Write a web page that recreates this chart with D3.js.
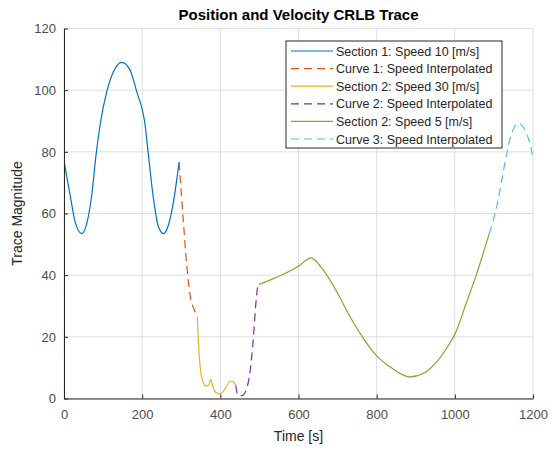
<!DOCTYPE html>
<html>
<head>
<meta charset="utf-8">
<script src="https://cdn.jsdelivr.net/npm/d3@7"></script>
<style>
  body { margin: 0; background: #fff; }
  text { font-family: "Liberation Sans", Arial, sans-serif; }
</style>
</head>
<body>
<div id="vis-container"></div>
<script>
// values: [time, trace]
var section1 = [[0,77],[15.6,66],[28.4,57.3],[45.5,53.5],[58.3,56.8],[71,66],[82,79],[92.3,88.7],
  [109.4,99.5],[126.5,106],[147.8,109],[169,106.5],[186,99.5],[207.5,88.7],[216,79],[228.8,64.9],
  [241.6,55.7],[254.4,53.5],[267,56.2],[280,63.8],[294.5,76.6]];
var curve1 = [[294.5,76.6],[305.5,57.3],[314,43.3],[322.6,33.5],[333.6,28.7],[341,26.5]];
var section2 = [[341,26.5],[343.9,18.4],[348,10.8],[354,6],[362.6,4],[369.5,4.3],[375.5,6.2],
  [379.7,4.3],[388,2],[399,1.5],[410,2.7],[425,5.6],[433.4,5.4],[439.5,4.3]];
var curve2 = [[439.5,4.3],[444.6,1.1],[455,0.9],[467.6,3.3],[476,8.7],[484.5,19.5],[490.6,30.3],
  [495.7,36.2],[499,37]];
var section3 = [[499,37],[527,38.4],[561,40.3],[600,42.9],[632,45.6],[663.6,41.6],[698,34.6],
  [732,26.5],[766,19.5],[800,13.8],[834,10.3],[868,7.6],[885,7.0],[919,8.1],[953.6,11.9],
  [987.7,18.1],[1000,20.8],[1028,30.5],[1056,40.5],[1088,53.5]];
var curve3 = [[1088,53.5],[1107,62.2],[1120,70.8],[1132.8,79.5],[1145.5,86],
  [1162.5,89.2],[1179.6,87],[1192,82.7],[1200,78]];

var seriesNames = ["Section 1: Speed 10 [m/s]", "Curve 1: Speed Interpolated",
  "Section 2: Speed 30 [m/s]", "Curve 2: Speed Interpolated",
  "Section 2: Speed 5 [m/s]", "Curve 3: Speed Interpolated"];
var seriesColors = ["#0072BD", "#D95319", "#EDB120", "#7E2F8E", "#77AC30", "#4DBEEE"];
var seriesDashed = [false, true, false, true, false, true];
var seriesData = [section1, curve1, section2, curve2, section3, curve3];

var xTicks = [0, 200, 400, 600, 800, 1000, 1200];
var yTicks = [0, 20, 40, 60, 80, 100, 120];

var width = 560, height = 450;
var margins = { top: 28.5, right: 27, bottom: 51.5, left: 64 };
var visWidth = width - margins.left - margins.right;
var visHeight = height - margins.top - margins.bottom;

var svg = d3.select("#vis-container").append("svg")
    .attr("width", width)
    .attr("height", height);

var viewport = svg.append("g")
    .attr("transform", "translate(" + margins.left + "," + margins.top + ")");

var x = d3.scaleLinear().domain([0, 1200]).range([0, visWidth]);
var y = d3.scaleLinear().domain([0, 120]).range([visHeight, 0]);

// grid
var grid = viewport.append("g");
grid.selectAll(".gx").data(xTicks).enter().append("line")
    .attr("x1", d => x(d)).attr("x2", d => x(d))
    .attr("y1", 0).attr("y2", visHeight)
    .attr("stroke", "#dedede").attr("stroke-width", 1);
grid.selectAll(".gy").data(yTicks).enter().append("line")
    .attr("x1", 0).attr("x2", visWidth)
    .attr("y1", d => y(d)).attr("y2", d => y(d))
    .attr("stroke", "#dedede").attr("stroke-width", 1);

// lines
var lineGen = d3.line().x(d => x(d[0])).y(d => y(d[1])).curve(d3.curveMonotoneX);
viewport.append("defs").append("clipPath").attr("id", "clip")
    .append("rect").attr("width", visWidth + 2).attr("height", visHeight);
var visualization = viewport.append("g").attr("clip-path", "url(#clip)");
seriesData.forEach((s, i) => {
    visualization.append("path")
        .attr("d", lineGen(s))
        .attr("fill", "none")
        .attr("stroke", seriesColors[i])
        .attr("stroke-width", 1.2)
        .attr("stroke-dasharray", seriesDashed[i] ? "8,5" : null);
});

// axes
var axisG = viewport.append("g");
var xAxis = axisG.append("g")
    .attr("transform", "translate(0," + visHeight + ")")
    .call(d3.axisBottom(x).tickValues(xTicks).tickFormat(d3.format("d"))
        .tickSizeInner(-4).tickSizeOuter(0).tickPadding(11));
var yAxis = axisG.append("g")
    .call(d3.axisLeft(y).tickValues(yTicks).tickSizeInner(-4).tickSizeOuter(0).tickPadding(8));
[xAxis, yAxis].forEach(a => {
    a.select(".domain").attr("stroke", "#262626");
    a.selectAll(".tick line").attr("stroke", "#262626");
    a.selectAll(".tick text").attr("fill", "#4d4d4d").style("font-size", "13px")
        .style("font-family", "'Liberation Sans', Arial, sans-serif");
});

axisG.append("text")
    .attr("x", visWidth / 2).attr("y", visHeight + 42)
    .attr("text-anchor", "middle").attr("fill", "#262626")
    .style("font-size", "14px").text("Time [s]");
axisG.append("text")
    .attr("transform", "translate(-42," + (visHeight / 2) + ") rotate(-90)")
    .attr("text-anchor", "middle").attr("fill", "#262626")
    .style("font-size", "14px").text("Trace Magnitude");
svg.append("text")
    .attr("x", margins.left + visWidth / 2).attr("y", 20)
    .attr("text-anchor", "middle").attr("fill", "#000")
    .style("font-size", "15px").style("font-weight", "bold")
    .text("Position and Velocity CRLB Trace");

// legend
var legend = svg.append("g").attr("transform", "translate(286,41)");
legend.append("rect")
    .attr("width", 216).attr("height", 107)
    .attr("fill", "#fff").attr("stroke", "#262626").attr("stroke-width", 1);
seriesNames.forEach((name, i) => {
    var ly = 10 + i * 17.6;
    legend.append("line")
        .attr("x1", 5).attr("x2", 47).attr("y1", ly).attr("y2", ly)
        .attr("stroke", seriesColors[i]).attr("stroke-width", 1.2)
        .attr("stroke-dasharray", seriesDashed[i] ? "8,5" : null);
    legend.append("text")
        .attr("x", 50).attr("y", ly + 4.5)
        .attr("fill", "#262626").style("font-size", "12.5px")
        .text(name);
});
</script>
</body>
</html>
